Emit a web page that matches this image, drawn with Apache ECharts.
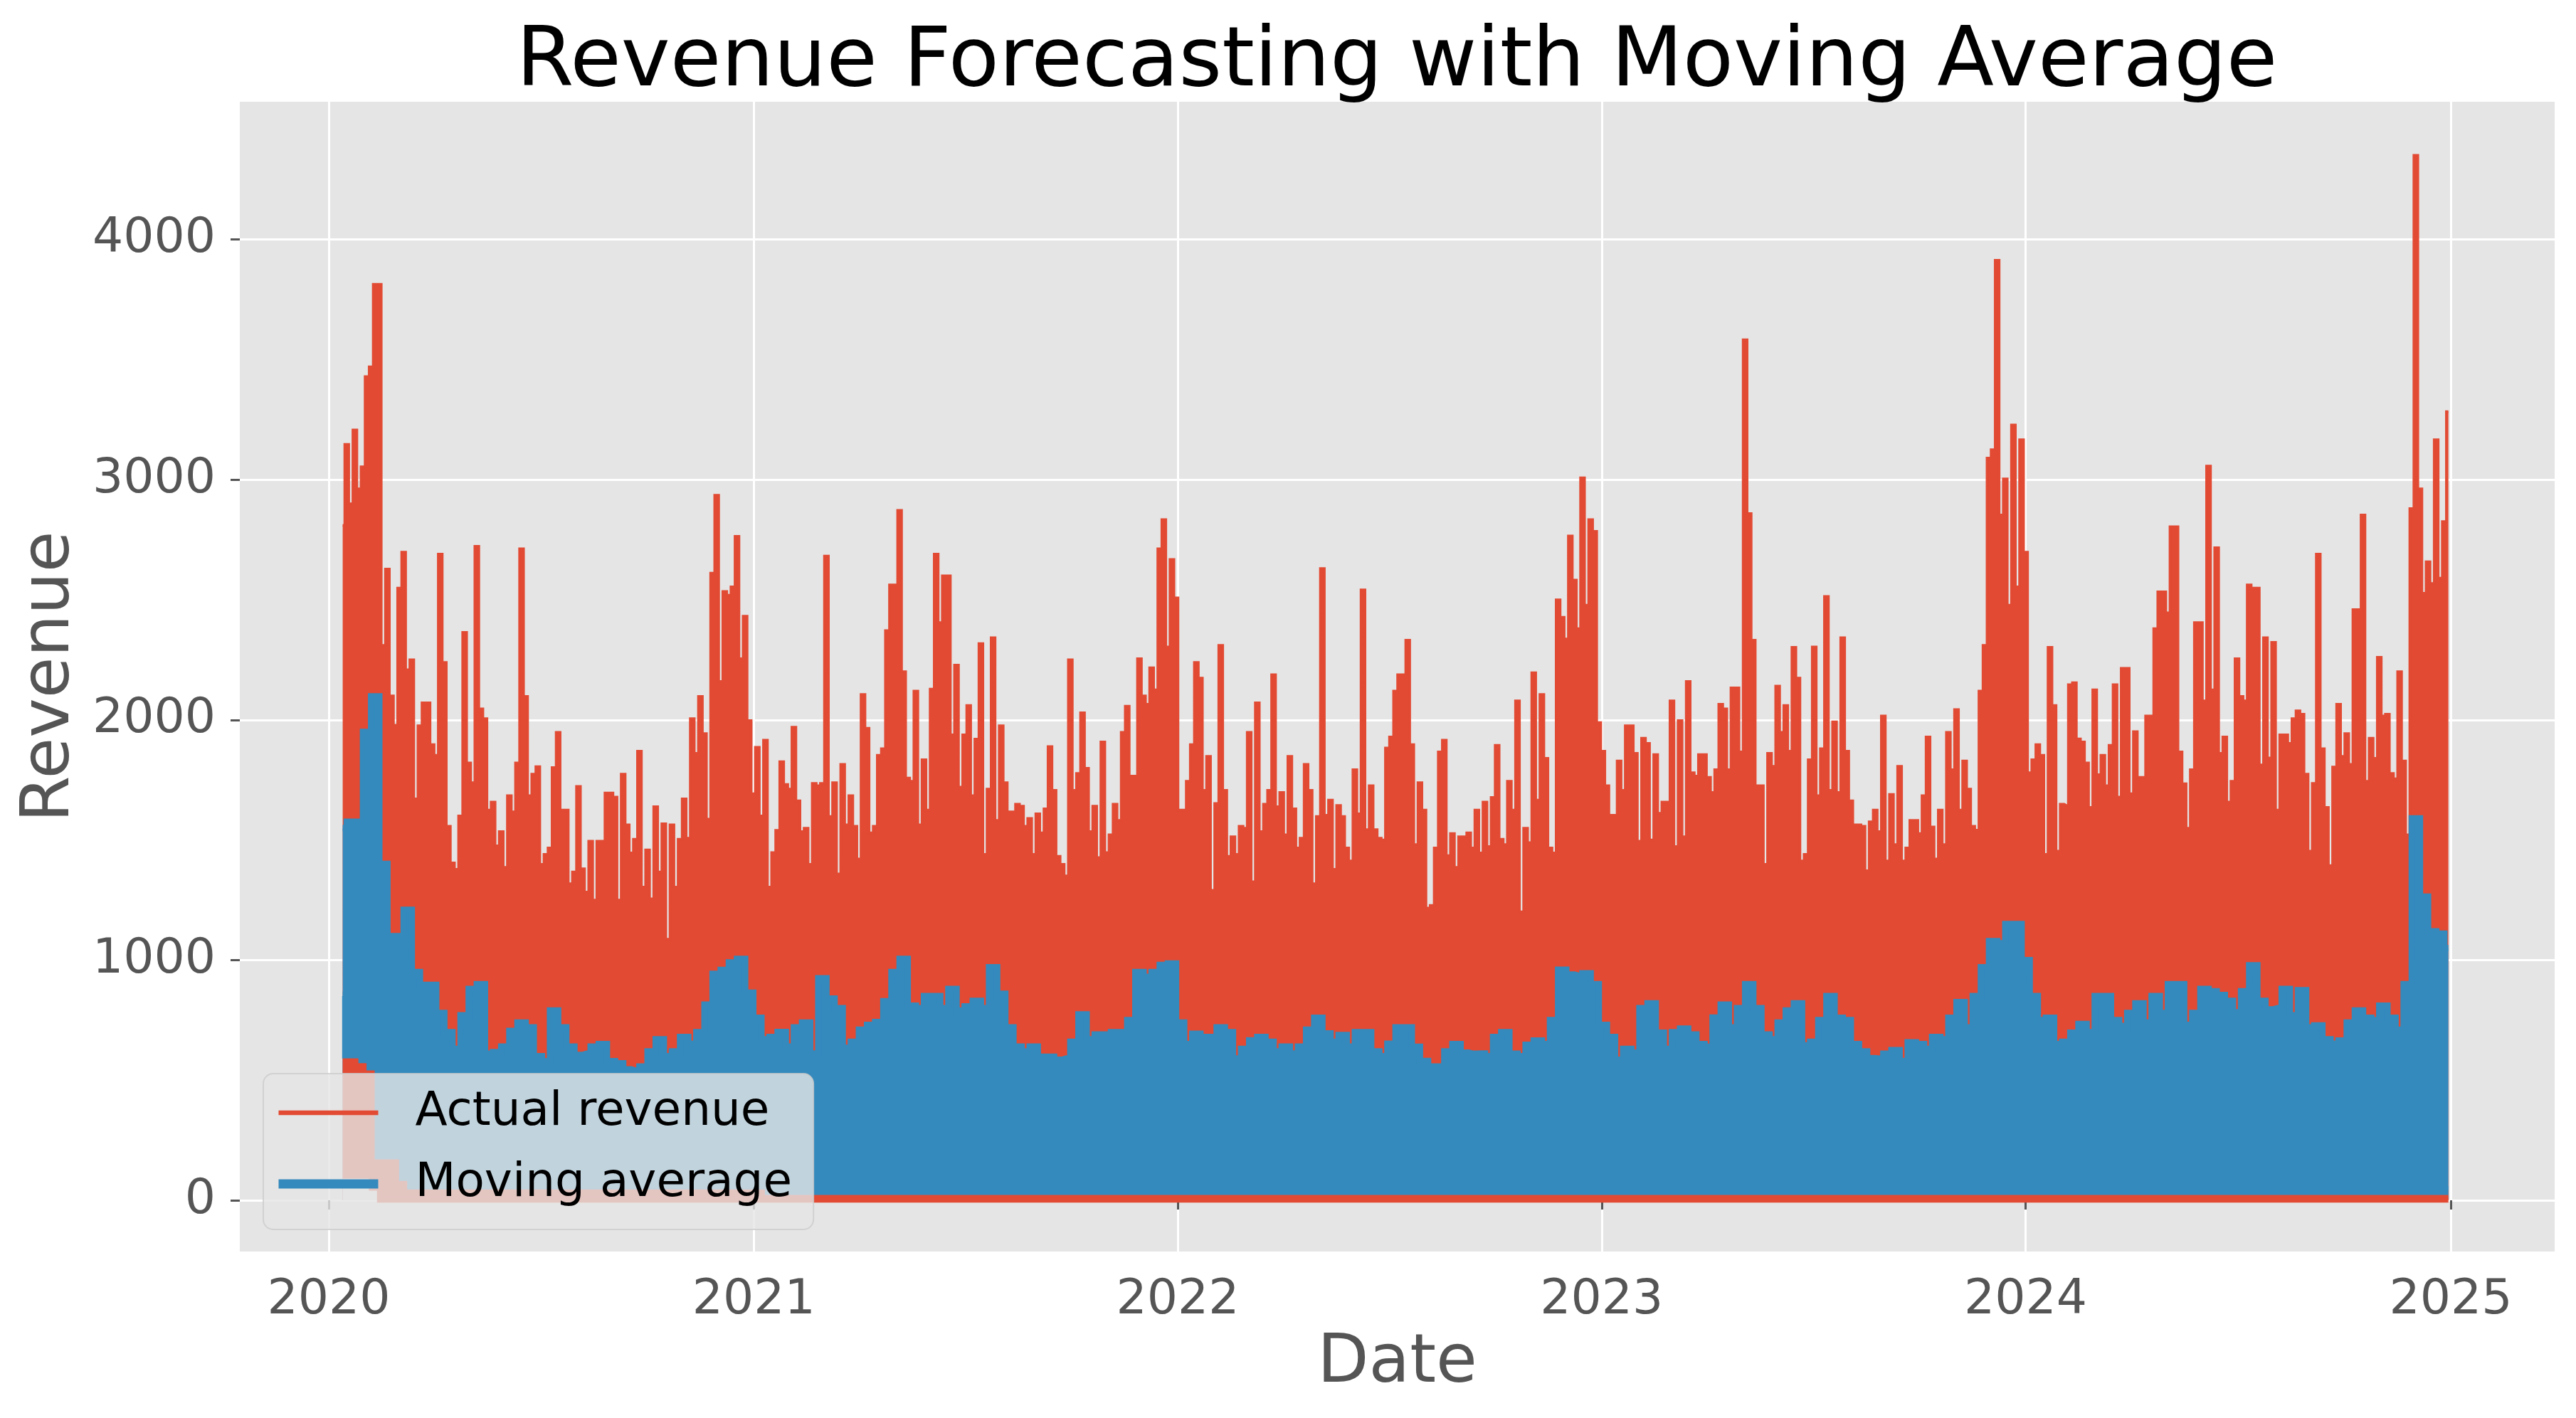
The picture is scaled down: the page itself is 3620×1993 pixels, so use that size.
<!DOCTYPE html>
<html>
<head>
<meta charset="utf-8">
<script src="https://cdn.jsdelivr.net/npm/echarts@6/dist/echarts.min.js"></script>
<style>
html,body{margin:0;padding:0;background:#ffffff;}
#chart{width:3620px;height:1993px;}
</style>
</head>
<body>
<div id="chart"></div>
<script>
// ---------------- data (readings of the envelopes) ----------------
const firstDate = '2020-01-13';
const actualStepDays = 3.5;   // actual revenue read every half week
const movingStepDays = 7;     // moving average read every week
const yearTicks = ['2020-01-01','2021-01-01','2022-01-01','2023-01-01','2024-01-01','2025-01-01'];
const revenueTicks = [0, 1000, 2000, 3000, 4000];

// Actual revenue: upper envelope, every half week
const actualHigh = [
  2810,3147,2900,3207,2962,3054,3429,3470,3813,3813,
  2310,2628,2100,1978,2549,2698,2209,2250,1671,1976,
  2071,2071,1897,1853,2690,2239,1557,1405,1378,1600,
  2364,1821,1739,2723,2046,2005,1625,1658,1476,1535,
  1386,1685,1617,1821,2712,2098,1685,1774,1805,1399,
  1440,1467,1802,1948,1625,1625,1318,1367,1723,1380,
  1283,1495,1250,1495,1495,1696,1696,1679,1250,1774,
  1563,1446,1503,1870,1304,1459,1255,1639,1367,1568,
  1087,1563,1304,1503,1671,1508,2005,1861,2098,1943,
  1587,2611,2935,2160,2535,2519,2554,2764,2255,2432,
  1997,1693,1886,1600,1916,1304,1448,1540,1826,1731,
  1712,1970,1663,1535,1549,1399,1736,1726,1736,2682,
  1598,1739,1359,1815,1563,1685,1557,1421,2106,1965,
  1530,1557,1853,1880,2372,2562,2562,2872,2201,1758,
  1745,2120,1563,1834,1625,2128,2690,2405,2600,2600,
  1938,2228,1720,1938,2060,1685,1920,2318,1440,1712,
  2342,1582,1976,1739,1617,1617,1649,1641,1557,1590,
  1440,1609,1530,1630,1889,1707,1432,1399,1351,2250,
  1707,1777,2030,1799,1535,1641,1427,1908,1448,1522,
  1649,1582,1948,2057,1766,1766,2255,2100,2065,2217,
  2125,2712,2834,2304,2668,2508,1625,1625,1745,1897,
  2239,2174,1707,1848,1291,1652,2310,1707,1432,1514,
  1440,1557,1549,1948,1326,2071,1535,1649,1707,2188,
  1639,1698,1522,1848,1630,1467,1508,1815,1707,1318,
  1598,2630,1603,1666,1378,1644,1598,1467,1413,1793,
  1609,2541,1543,1726,1543,1508,1500,1883,1929,2120,
  2188,2188,2332,1897,1481,1739,1625,1217,1228,1467,
  1867,1916,1435,1527,1386,1514,1514,1530,1467,1625,
  1446,1658,1473,1677,1894,1503,1481,1745,1625,2079,
  1201,1549,1489,2196,1666,2106,1840,1467,1446,2500,
  2427,2337,2766,2582,2380,3008,2478,2834,2785,1989,
  1870,1726,1603,1603,1829,1707,1976,1976,1861,1495,
  1924,1902,1500,1856,1611,1658,1658,2079,1473,1997,
  1514,2160,1780,1766,1856,1856,1761,1698,1793,2065,
  2046,1793,2133,2133,1867,3582,2859,2332,1726,1726,
  1399,1861,1807,2141,1948,2060,1870,2302,2174,1413,
  1440,1834,2304,1685,1880,2514,1707,1992,1698,2342,
  1870,1663,1563,1563,1557,1372,1576,1625,1535,2016,
  1413,1690,1481,1807,1413,1467,1582,1582,1527,1685,
  1929,1554,1421,1625,1481,1948,1793,2043,1625,1829,
  1712,1557,1541,2120,2310,3090,3125,3913,2853,3003,
  2478,3228,2554,3166,2698,1780,1834,1897,1853,1440,
  2302,2060,1454,1649,1644,2147,2155,1921,1908,1821,
  1636,2125,1772,1853,1726,1894,2147,1679,2215,2215,
  1693,1951,1761,1761,2016,2016,2380,2533,2533,2446,
  2804,2804,1867,1734,1549,1793,2405,2405,2079,3057,
  2125,2717,1861,1929,1658,1745,2255,2098,2079,2562,
  2549,2549,1813,2342,1842,2323,1625,1938,1938,1902,
  2005,2038,2024,1774,1454,1736,2690,1880,1636,1394,
  1804,2065,1848,1943,1815,2459,2459,2853,1745,1924,
  1840,2261,2016,2024,1777,1755,2201,1829,1522,2880,
  4350,2962,2527,2658,2568,3166,2590,2826,3283
];
// Actual revenue: lower envelope, every week
const actualLow = [
  100,100,100,100,50,0,0,0,0,0,0,0,0,0,0,0,0,0,0,0,
  0,0,0,0,0,0,0,0,0,0,0,0,0,0,0,0,0,0,0,0,
  0,0,0,0,0,0,0,0,0,0,0,0,0,0,0,0,0,0,0,0,
  0,0,0,0,0,0,0,0,0,0,0,0,0,0,0,0,0,0,0,0,
  0,0,0,0,0,0,0,0,0,0,0,0,0,0,0,0,0,0,0,0,
  0,0,0,0,0,0,0,0,0,0,0,0,0,0,0,0,0,0,0,0,
  0,0,0,0,0,0,0,0,0,0,0,0,0,0,0,0,0,0,0,0,
  0,0,0,0,0,0,0,0,0,0,0,0,0,0,0,0,0,0,0,0,
  0,0,0,0,0,0,0,0,0,0,0,0,0,0,0,0,0,0,0,0,
  0,0,0,0,0,0,0,0,0,0,0,0,0,0,0,0,0,0,0,0,
  0,0,0,0,0,0,0,0,0,0,0,0,0,0,0,0,0,0,0,0,
  0,0,0,0,0,0,0,0,0,0,0,0,0,0,0,0,0,0,0,0,
  0,0,0,0,0,0,0,0,0,0,0,0,0,0,0,0,0,0,0,0
];
// Moving average: upper envelope, every week
const movingHigh = [
  1550,1576,1576,1950,2098,1400,1100,1100,1209,950,
  897,897,780,700,630,770,880,900,610,617,
  640,705,740,720,600,579,790,720,640,605,
  610,640,650,579,570,545,540,557,620,670,
  600,620,680,652,700,815,943,959,990,1005,
  864,760,670,680,701,640,720,740,611,924,
  840,800,635,660,710,730,742,829,950,1005,
  810,800,850,850,800,880,790,807,830,800,
  970,860,720,640,620,640,598,598,585,590,
  660,774,670,690,690,700,700,750,950,930,
  950,980,986,740,650,693,680,680,720,700,
  590,630,666,680,660,620,640,611,640,710,
  760,695,660,688,640,700,700,620,600,652,
  720,720,639,580,557,557,620,650,615,610,
  611,600,680,700,610,600,647,665,650,750,
  960,940,935,945,900,730,680,585,630,615,
  800,820,698,630,700,715,690,650,639,761,
  815,720,800,900,800,690,670,740,790,820,
  645,660,750,850,760,750,650,620,592,590,
  610,625,580,658,650,630,680,670,760,825,
  720,850,970,1079,1070,1150,1150,1000,850,750,
  760,650,660,698,734,700,850,850,750,726,
  780,820,740,850,780,900,900,730,780,880,
  870,855,830,783,870,978,830,795,800,880,
  770,875,720,728,670,652,665,740,790,760,
  750,810,760,710,900,1590,1264,1120,1110,1050
];
// Moving average: lower envelope, every week
const movingLow = [
  850,610,700,590,560,190,190,190,100,65,65,65,65,65,65,65,65,65,65,65,
  65,65,65,65,65,65,65,65,65,65,65,65,65,65,65,65,65,65,65,65,
  65,65,65,65,65,65,65,65,65,65,65,65,65,42,42,42,42,42,42,42,
  42,42,42,42,42,42,42,42,42,42,42,42,42,42,42,42,42,42,42,42,
  42,42,42,42,42,42,42,42,42,42,42,42,42,42,42,42,42,42,42,42,
  42,42,42,42,42,42,42,42,42,42,42,42,42,42,42,42,42,42,42,42,
  42,42,42,42,42,42,42,42,42,42,42,42,42,42,42,42,42,42,42,42,
  42,42,42,42,42,42,42,42,42,42,42,42,42,42,42,42,42,42,42,42,
  42,42,42,42,42,42,42,42,42,42,42,42,42,42,42,42,42,42,42,42,
  42,42,42,42,42,42,42,42,42,42,42,42,42,42,42,42,42,42,42,42,
  42,42,42,42,42,42,42,42,42,42,42,42,42,42,42,42,42,42,42,42,
  42,42,42,42,42,42,42,42,42,42,42,42,42,42,42,42,42,42,42,42,
  42,42,42,42,42,42,42,42,42,42,42,42,42,42,42,42,42,42,42,42
];

// ---------------- chart ----------------
const RED = '#E24A33';
const BLUE = '#348ABD';
const PANEL = '#E5E5E5';
const FONT = 'DejaVu Sans';
const DAY = 86400000;
const t0 = Date.parse(firstDate + 'T00:00:00Z');
const series2pts = (arr, stepDays) => arr.map((v, i) => [t0 + i * stepDays * DAY, v]);
const yearValues = yearTicks.map(d => Date.parse(d + 'T00:00:00Z'));

function stepArea(name, arr, stepDays, lineColor, lineWidth, fillColor) {
  return {
    name, type: 'line', step: 'middle', symbol: 'none', silent: true,
    data: series2pts(arr, stepDays),
    lineStyle: {color: lineColor, width: lineWidth, join: 'miter'},
    itemStyle: {color: lineColor},
    areaStyle: {color: fillColor, opacity: 1, origin: 0}
  };
}

const chart = echarts.init(document.getElementById('chart'), null, {renderer: 'canvas'});
chart.setOption({
  animation: false,
  backgroundColor: '#ffffff',
  title: {
    text: 'Revenue Forecasting with Moving Average',
    left: 1963, top: 31, textAlign: 'center', padding: 0,
    textStyle: {fontFamily: FONT, fontSize: 116.5, fontWeight: 'normal', color: '#000000'}
  },
  legend: {
    orient: 'vertical', left: 370, top: 1509,
    padding: [22, 30, 31, 15],
    itemWidth: 140, itemHeight: 66, itemGap: 34,
    selectedMode: false,
    backgroundColor: 'rgba(229,229,229,0.8)',
    borderColor: 'rgba(204,204,204,0.8)', borderWidth: 2, borderRadius: 14,
    textStyle: {fontFamily: FONT, fontSize: 66, color: '#000000', padding: [0, 0, 0, 47]},
    data: [
      {name: 'Actual revenue', lineStyle: {width: 6.5}, itemStyle: {opacity: 0}},
      {name: 'Moving average', lineStyle: {width: 13}, itemStyle: {opacity: 0}}
    ]
  },
  grid: {
    left: 337, right: 30, top: 143, bottom: 234,
    show: true, backgroundColor: PANEL, borderWidth: 0,
    containLabel: false, outerBoundsMode: 'none'
  },
  xAxis: {
    type: 'value',
    min: Date.parse('2019-10-16T10:00:00Z'),
    max: Date.parse('2025-03-31T12:00:00Z'),
    name: 'Date', nameLocation: 'middle', nameGap: 112,
    nameTextStyle: {fontFamily: FONT, fontSize: 94, color: '#555555'},
    axisLine: {show: false},
    axisTick: {show: true, length: 13, customValues: yearValues, lineStyle: {color: '#555555', width: 3}},
    axisLabel: {
      customValues: yearValues, margin: 35, fontFamily: FONT, fontSize: 68, color: '#555555',
      formatter: v => String(new Date(v).getUTCFullYear())
    },
    splitLine: {show: true, lineStyle: {color: '#ffffff', width: 3}}
  },
  yAxis: {
    type: 'value', min: -213, max: 4573,
    name: 'Revenue', nameLocation: 'middle', nameGap: 189,
    nameTextStyle: {fontFamily: FONT, fontSize: 94, color: '#555555'},
    axisLine: {show: false},
    axisTick: {show: true, length: 13, customValues: revenueTicks, lineStyle: {color: '#555555', width: 3}},
    axisLabel: {customValues: revenueTicks, margin: 34, fontFamily: FONT, fontSize: 68, color: '#555555',
      formatter: v => String(v)},
    splitLine: {show: true, lineStyle: {color: '#ffffff', width: 3}}
  },
  series: [
    // red envelope of actual revenue
    stepArea('Actual revenue', actualHigh, actualStepDays, RED, 3.5, RED),
    // blue envelope of the moving average
    stepArea('Moving average', movingHigh, movingStepDays, BLUE, 9, BLUE),
    // red revenue visible below the lowest moving-average values (blue lower edge)
    stepArea('movingLowerEdge', movingLow, movingStepDays, BLUE, 13, RED),
    // empty panel below the lowest revenue values (red lower edge)
    stepArea('actualLowerEdge', actualLow, movingStepDays, RED, 6.5, PANEL)
  ]
});
</script>
</body>
</html>
